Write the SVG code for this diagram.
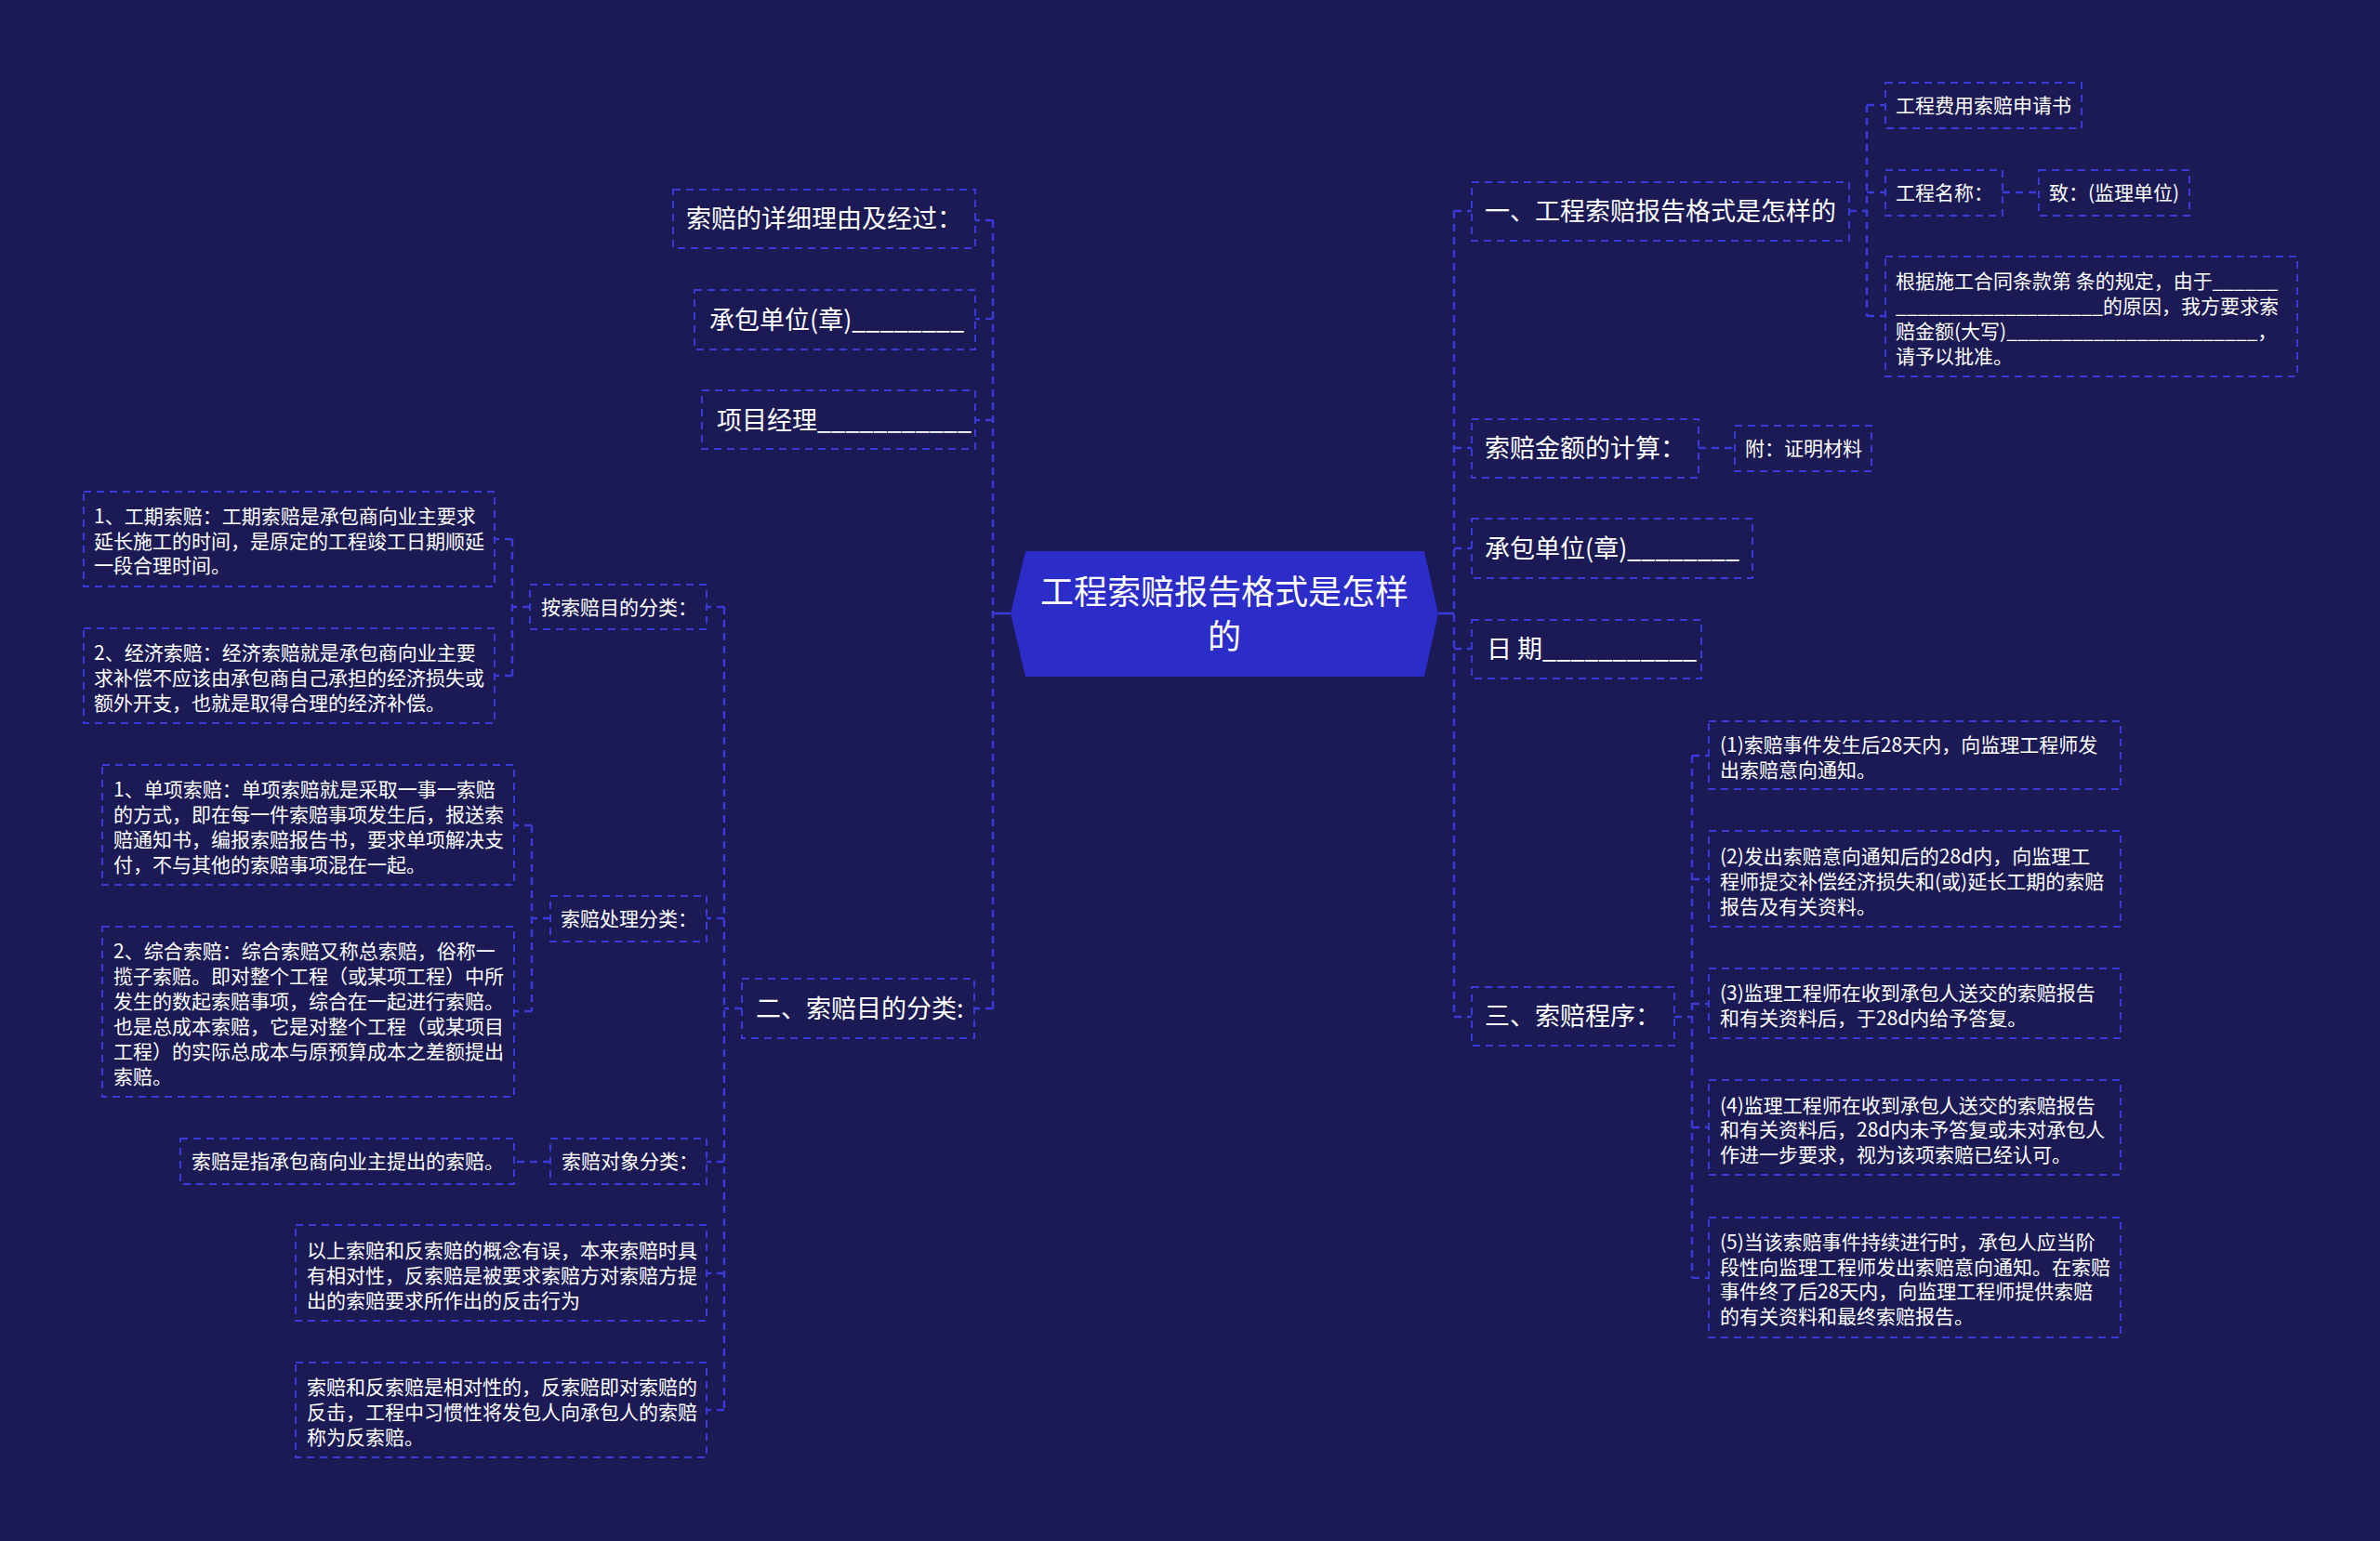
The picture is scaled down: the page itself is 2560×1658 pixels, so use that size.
<svg xmlns="http://www.w3.org/2000/svg" width="2560" height="1658" viewBox="0 0 2560 1658">
<style>
text{font-family:"Noto Sans CJK SC","Noto Sans",sans-serif;fill:#ffffff}
.bx{fill:none;stroke:#3a3ad8;stroke-width:2;stroke-dasharray:8 6}
.ln{fill:none;stroke:#3a3ad8;stroke-width:2.5;stroke-dasharray:8 6}
.sl{fill:none;stroke:#3a3ad8;stroke-width:2.5}
.t36{font-size:36px}
.t27{font-size:27px}
.t21{font-size:21px}
</style>
<rect width="2560" height="1658" fill="#1b1a55"/>
<g id="connectors">
<path class="sl" d="M1087 660H1068"/>
<path class="ln" d="M1068 237V1085"/>
<path class="ln" d="M1068 237H1049M1068 343H1049M1068 452H1049M1068 1085H1048"/>
<path class="sl" d="M1547 660H1564"/>
<path class="ln" d="M1564 227V1094"/>
<path class="ln" d="M1564 227H1583M1564 482H1583M1564 590H1583M1564 698H1583M1564 1094H1583"/>
<path class="ln" d="M1989 227H2008M2008 113V340M2008 113H2028M2008 207H2028M2008 340H2028"/>
<path class="ln" d="M2154 207H2193"/>
<path class="ln" d="M1827 482H1866"/>
<path class="ln" d="M1801 1094H1820M1820 813V1375M1820 813H1838M1820 946H1838M1820 1080H1838M1820 1213H1838M1820 1375H1838"/>
<path class="ln" d="M798 1085H779M779 653V1517M779 653H760M779 988H760M779 1250H760M779 1370H760M779 1517H760"/>
<path class="ln" d="M570 653H551M551 580V727M551 580H532M551 727H532"/>
<path class="ln" d="M592 988H572M572 888V1088M572 888H553M572 1088H553"/>
<path class="ln" d="M592 1250H553"/>
</g>
<g id="root">
<polygon points="1087,660 1103,593 1532,593 1547,660 1532,728 1103,728" fill="#2c2cc8"/>
<text class="t36" x="1317" y="650" text-anchor="middle">工程索赔报告格式是怎样</text>
<text class="t36" x="1317" y="698" text-anchor="middle">的</text>
</g>
<g id="n-r1">
<rect class="bx" x="1583" y="196" width="406" height="63"/>
<text class="t27" x="1597" y="237">一、工程索赔报告格式是怎样的</text>
</g>
<g id="n-r1a">
<rect class="bx" x="2028" y="89" width="211" height="49"/>
<text class="t21" x="2039" y="121">工程费用索赔申请书</text>
</g>
<g id="n-r1b">
<rect class="bx" x="2028" y="183" width="126" height="49"/>
<text class="t21" x="2039" y="215">工程名称：</text>
</g>
<g id="n-r1c">
<rect class="bx" x="2193" y="183" width="162" height="49"/>
<text class="t21" x="2204" y="215">致：(监理单位)</text>
</g>
<g id="n-r1d">
<rect class="bx" x="2028" y="276" width="443" height="129"/>
<text class="t21" x="2039" y="310">根据施工合同条款第 条的规定，由于______</text>
<text class="t21" x="2039" y="337">___________________的原因，我方要求索</text>
<text class="t21" x="2039" y="364">赔金额(大写)_______________________，</text>
<text class="t21" x="2039" y="391">请予以批准。</text>
</g>
<g id="n-r2">
<rect class="bx" x="1583" y="451" width="244" height="63"/>
<text class="t27" x="1597" y="492">索赔金额的计算：</text>
</g>
<g id="n-r2a">
<rect class="bx" x="1866" y="458" width="147" height="49"/>
<text class="t21" x="1877" y="490">附：证明材料</text>
</g>
<g id="n-r3">
<rect class="bx" x="1583" y="558" width="302" height="64"/>
<text class="t27" x="1597" y="600">承包单位(章)________</text>
</g>
<g id="n-r4">
<rect class="bx" x="1583" y="667" width="247" height="63"/>
<text class="t27" x="1599" y="708">日 期___________</text>
</g>
<g id="n-r5">
<rect class="bx" x="1583" y="1062" width="218" height="63"/>
<text class="t27" x="1597" y="1103">三、索赔程序：</text>
</g>
<g id="n-r5a">
<rect class="bx" x="1838" y="776" width="443" height="73"/>
<text class="t21" x="1850" y="809">(1)索赔事件发生后28天内，向监理工程师发</text>
<text class="t21" x="1850" y="836">出索赔意向通知。</text>
</g>
<g id="n-r5b">
<rect class="bx" x="1838" y="894" width="443" height="103"/>
<text class="t21" x="1850" y="929">(2)发出索赔意向通知后的28d内，向监理工</text>
<text class="t21" x="1850" y="956">程师提交补偿经济损失和(或)延长工期的索赔</text>
<text class="t21" x="1850" y="983">报告及有关资料。</text>
</g>
<g id="n-r5c">
<rect class="bx" x="1838" y="1042" width="443" height="75"/>
<text class="t21" x="1850" y="1076">(3)监理工程师在收到承包人送交的索赔报告</text>
<text class="t21" x="1850" y="1103">和有关资料后，于28d内给予答复。</text>
</g>
<g id="n-r5d">
<rect class="bx" x="1838" y="1162" width="443" height="102"/>
<text class="t21" x="1850" y="1197">(4)监理工程师在收到承包人送交的索赔报告</text>
<text class="t21" x="1850" y="1223">和有关资料后，28d内未予答复或未对承包人</text>
<text class="t21" x="1850" y="1250">作进一步要求，视为该项索赔已经认可。</text>
</g>
<g id="n-r5e">
<rect class="bx" x="1838" y="1310" width="443" height="129"/>
<text class="t21" x="1850" y="1344">(5)当该索赔事件持续进行时，承包人应当阶</text>
<text class="t21" x="1850" y="1371">段性向监理工程师发出索赔意向通知。在索赔</text>
<text class="t21" x="1850" y="1397">事件终了后28天内，向监理工程师提供索赔</text>
<text class="t21" x="1850" y="1424">的有关资料和最终索赔报告。</text>
</g>
<g id="n-l1">
<rect class="bx" x="724" y="204" width="325" height="63"/>
<text class="t27" x="738" y="245">索赔的详细理由及经过：</text>
</g>
<g id="n-l2">
<rect class="bx" x="747" y="312" width="302" height="64"/>
<text class="t27" x="763" y="354">承包单位(章)________</text>
</g>
<g id="n-l3">
<rect class="bx" x="755" y="420" width="294" height="63"/>
<text class="t27" x="771" y="462">项目经理___________</text>
</g>
<g id="n-l4">
<rect class="bx" x="798" y="1053" width="250" height="64"/>
<text class="t27" x="813" y="1095">二、索赔目的分类:</text>
</g>
<g id="n-l4a">
<rect class="bx" x="570" y="629" width="190" height="48"/>
<text class="t21" x="582" y="661">按索赔目的分类：</text>
</g>
<g id="n-l4a1">
<rect class="bx" x="90" y="529" width="442" height="102"/>
<text class="t21" x="101" y="563">1、工期索赔：工期索赔是承包商向业主要求</text>
<text class="t21" x="101" y="590">延长施工的时间，是原定的工程竣工日期顺延</text>
<text class="t21" x="101" y="616">一段合理时间。</text>
</g>
<g id="n-l4a2">
<rect class="bx" x="90" y="676" width="442" height="102"/>
<text class="t21" x="101" y="710">2、经济索赔：经济索赔就是承包商向业主要</text>
<text class="t21" x="101" y="737">求补偿不应该由承包商自己承担的经济损失或</text>
<text class="t21" x="101" y="764">额外开支，也就是取得合理的经济补偿。</text>
</g>
<g id="n-l4b">
<rect class="bx" x="592" y="964" width="168" height="49"/>
<text class="t21" x="603" y="996">索赔处理分类：</text>
</g>
<g id="n-l4b1">
<rect class="bx" x="110" y="823" width="443" height="129"/>
<text class="t21" x="122" y="857">1、单项索赔：单项索赔就是采取一事一索赔</text>
<text class="t21" x="122" y="884">的方式，即在每一件索赔事项发生后，报送索</text>
<text class="t21" x="122" y="911">赔通知书，编报索赔报告书，要求单项解决支</text>
<text class="t21" x="122" y="938">付，不与其他的索赔事项混在一起。</text>
</g>
<g id="n-l4b2">
<rect class="bx" x="110" y="997" width="443" height="183"/>
<text class="t21" x="122" y="1031">2、综合索赔：综合索赔又称总索赔，俗称一</text>
<text class="t21" x="122" y="1058">揽子索赔。即对整个工程（或某项工程）中所</text>
<text class="t21" x="122" y="1085">发生的数起索赔事项，综合在一起进行索赔。</text>
<text class="t21" x="122" y="1112">也是总成本索赔，它是对整个工程（或某项目</text>
<text class="t21" x="122" y="1139">工程）的实际总成本与原预算成本之差额提出</text>
<text class="t21" x="122" y="1166">索赔。</text>
</g>
<g id="n-l4c">
<rect class="bx" x="592" y="1225" width="168" height="49"/>
<text class="t21" x="604" y="1257">索赔对象分类：</text>
</g>
<g id="n-l4c1">
<rect class="bx" x="194" y="1225" width="359" height="49"/>
<text class="t21" x="206" y="1257">索赔是指承包商向业主提出的索赔。</text>
</g>
<g id="n-l4d">
<rect class="bx" x="318" y="1318" width="442" height="103"/>
<text class="t21" x="330" y="1353">以上索赔和反索赔的概念有误，本来索赔时具</text>
<text class="t21" x="330" y="1380">有相对性，反索赔是被要求索赔方对索赔方提</text>
<text class="t21" x="330" y="1407">出的索赔要求所作出的反击行为</text>
</g>
<g id="n-l4e">
<rect class="bx" x="318" y="1466" width="442" height="102"/>
<text class="t21" x="330" y="1500">索赔和反索赔是相对性的，反索赔即对索赔的</text>
<text class="t21" x="330" y="1527">反击，工程中习惯性将发包人向承包人的索赔</text>
<text class="t21" x="330" y="1554">称为反索赔。</text>
</g>
</svg>
